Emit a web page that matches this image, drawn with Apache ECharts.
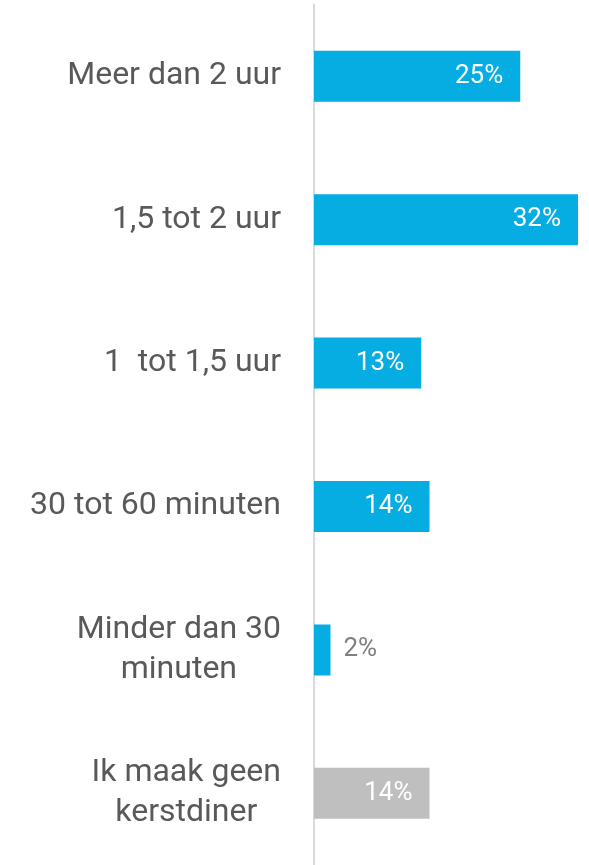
<!DOCTYPE html>
<html>
<head>
<meta charset="utf-8">
<script src="https://cdn.jsdelivr.net/npm/echarts@6/dist/echarts.min.js"></script>
<style>
  html, body { margin: 0; padding: 0; background: #fff; }
  #chart { width: 589px; height: 865px; }
</style>
</head>
<body>
<div id="chart"></div>
<script>
// categorieën (van boven naar beneden)
const categories = [
  'Meer dan 2 uur',
  '1,5 tot 2 uur',
  '1  tot 1,5 uur',
  '30 tot 60 minuten',
  'Minder dan 30\nminuten',
  'Ik maak geen\nkerstdiner'
];
const values = [25, 32, 13, 14, 2, 14];
const barColors = ['#06ADE3', '#06ADE3', '#06ADE3', '#06ADE3', '#06ADE3', '#BFBFBF'];

const chart = echarts.init(document.getElementById('chart'));

const labelFont = { fontFamily: 'Roboto', fontSize: 32, color: '#595959', lineHeight: 40 };

const option = {
  animation: false,
  grid: { left: 314, right: 11, top: 4.5, height: 863.5, containLabel: false },
  xAxis: {
    type: 'value',
    min: 0,
    max: 32,
    show: false
  },
  yAxis: {
    type: 'category',
    inverse: true,
    data: categories,
    axisLine: { show: true, lineStyle: { color: '#D9D9D9', width: 2 } },
    axisTick: { show: false },
    axisLabel: {
      margin: 33,
      align: 'right',
      ...labelFont,
      // meerregelige labels: regels gecentreerd onder elkaar
      formatter: (v) => v.split('\n').map(s => '{c|' + s + '}').join('\n'),
      rich: { c: { align: 'center', ...labelFont } }
    }
  },
  series: [
    {
      type: 'bar',
      barWidth: 51,
      data: values.map((v, i) => ({
        value: v,
        itemStyle: { color: barColors[i] },
        label: v < 5
          ? { position: 'right', distance: 13, color: '#7F7F7F' }
          : { position: 'insideRight', distance: 17, color: '#FFFFFF' }
      })),
      label: {
        show: true,
        fontFamily: 'Roboto',
        fontSize: 26,
        formatter: (p) => p.value + '%'
      }
    }
  ]
};

chart.setOption(option);
</script>
</body>
</html>
